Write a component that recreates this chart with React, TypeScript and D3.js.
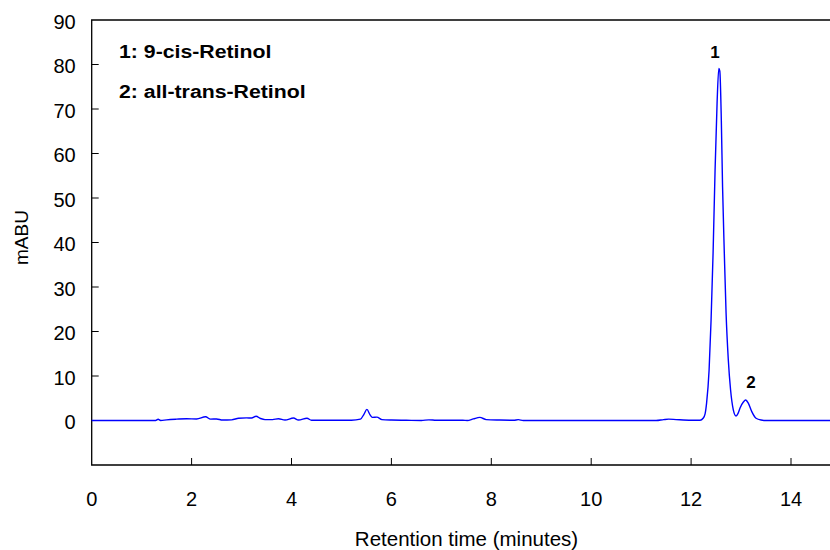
import React, { useRef, useEffect } from "react";
import * as d3 from "d3";

// chromatogram: retention time (min) / absorbance (mABU)
const times = [
  0.0, 1.28, 1.33, 1.38, 1.5, 1.7, 1.9, 2.1, 2.28, 2.38, 2.5, 2.62, 2.8, 2.94,
  3.1, 3.2, 3.29, 3.38, 3.47, 3.62, 3.74, 3.87, 4.04, 4.14, 4.31, 4.4, 4.8, 5.2,
  5.38, 5.45, 5.51, 5.57, 5.62, 5.71, 5.81, 6.0, 6.3, 6.6, 6.75, 6.9, 7.2, 7.43,
  7.52, 7.64, 7.77, 7.9, 8.17, 8.45, 8.54, 8.64, 9.5, 10.5, 11.3, 11.45, 11.55,
  11.7, 12.0, 12.18, 12.24, 12.28, 12.31, 12.36, 12.4, 12.44, 12.48, 12.52,
  12.555, 12.575, 12.605, 12.63, 12.665, 12.7, 12.745, 12.79, 12.845, 12.9,
  12.94, 12.98, 13.05, 13.09, 13.145, 13.215, 13.3, 13.4, 13.5, 14.0, 14.5, 15.0,
];
const signal = [
  0.0, 0.0, 0.27, 0.0, 0.15, 0.3, 0.4, 0.35, 0.85, 0.3, 0.35, 0.1, 0.15, 0.5,
  0.6, 0.55, 0.95, 0.45, 0.2, 0.2, 0.4, 0.1, 0.55, 0.1, 0.5, 0.05, 0.05, 0.05,
  0.3, 1.4, 2.5, 1.3, 0.7, 0.75, 0.2, 0.1, 0.05, 0.0, 0.15, 0.05, 0.05, 0.05,
  0.0, 0.35, 0.7, 0.2, 0.1, 0.05, 0.2, 0.0, 0.0, 0.0, 0.0, 0.2, 0.3,
  0.2, 0.05, 0.05, 0.5, 1.5, 3.9, 11.3, 22.6, 37.6, 56.3, 71.3,
  79.1, 78.5, 67.5, 52.5, 37.6, 24.2, 13.6, 6.9, 2.4, 1.0,
  1.6, 2.8, 4.2, 4.6, 3.9, 2.0, 0.5, 0.1, 0.0, 0.0, 0.0, 0.0,
];

const xTicks = [0, 2, 4, 6, 8, 10, 12, 14];
const yTicks = [0, 10, 20, 30, 40, 50, 60, 70, 80, 90];

const peakLabels = [
  { text: "1", t: 12.48, v: 82.7 },
  { text: "2", t: 13.2, v: 8.6 },
];
const legendLines = ["1: 9-cis-Retinol", "2: all-trans-Retinol"];

const W = 830;
const H = 550;
const FONT = "Arial, 'Liberation Sans', sans-serif";

function Chromatogram() {
  const svgRef = useRef<SVGSVGElement>(null);

  useEffect(() => {
    const svg = d3.select(svgRef.current);
    svg.selectAll("*").remove();

    const x = d3.scaleLinear().domain([0, 15]).range([91.7, 91.7 + 15 * 49.95]);
    const y = d3.scaleLinear().domain([-10, 90]).range([465, 20]);
    const left = x(0), right = W, top = y(90), bottom = y(-10);

    // frame (no right side, it runs off the picture)
    svg.append("path")
      .attr("d", `M${right},${top}H${left}V${bottom}H${right}`)
      .attr("fill", "none")
      .attr("stroke", "#000")
      .attr("stroke-width", 1.3);

    // inward ticks
    svg.append("g").selectAll("line")
      .data(yTicks.filter(v => v < 90))
      .join("line")
      .attr("x1", left).attr("x2", left + 7)
      .attr("y1", d => y(d)).attr("y2", d => y(d))
      .attr("stroke", "#000").attr("stroke-width", 1);
    svg.append("g").selectAll("line")
      .data(xTicks.filter(v => v > 0))
      .join("line")
      .attr("x1", d => x(d)).attr("x2", d => x(d))
      .attr("y1", bottom).attr("y2", bottom - 7)
      .attr("stroke", "#000").attr("stroke-width", 1);

    // tick labels
    svg.append("g").selectAll("text")
      .data(yTicks)
      .join("text")
      .attr("x", left - 16)
      .attr("y", d => y(d) + 1.5)
      .attr("text-anchor", "end")
      .attr("dominant-baseline", "central")
      .style("font-family", FONT)
      .style("font-size", "20px")
      .text(d => d);
    svg.append("g").selectAll("text")
      .data(xTicks)
      .join("text")
      .attr("x", d => x(d))
      .attr("y", 506)
      .attr("text-anchor", "middle")
      .style("font-family", FONT)
      .style("font-size", "20px")
      .text(d => d);

    // axis titles
    svg.append("text")
      .attr("x", 466.5).attr("y", 546)
      .attr("text-anchor", "middle")
      .style("font-family", FONT)
      .style("font-size", "20.5px")
      .text("Retention time (minutes)");
    svg.append("text")
      .attr("transform", `translate(28,${(top + bottom) / 2 - 5}) rotate(-90)`)
      .attr("text-anchor", "middle")
      .style("font-family", FONT)
      .style("font-size", "19px")
      .text("mABU");

    // trace
    const pts = times.map((t, i) => [t, signal[i]] as [number, number]);
    const line = d3.line<[number, number]>()
      .x(d => x(d[0]))
      .y(d => y(d[1]))
      .curve(d3.curveMonotoneX);
    svg.append("path")
      .datum(pts)
      .attr("d", line)
      .attr("fill", "none")
      .attr("stroke", "#0000ff")
      .attr("stroke-width", 1.4);

    // peak numbers
    svg.append("g").selectAll("text")
      .data(peakLabels)
      .join("text")
      .attr("x", d => x(d.t))
      .attr("y", d => y(d.v))
      .attr("text-anchor", "middle")
      .attr("dominant-baseline", "central")
      .style("font-family", FONT)
      .style("font-weight", "bold")
      .style("font-size", "17px")
      .text(d => d.text);

    // legend
    svg.append("g").selectAll("text")
      .data(legendLines)
      .join("text")
      .attr("transform", (d, i) => `translate(119,${51 + i * 40.5}) scale(1.12,1)`)
      .attr("dominant-baseline", "central")
      .style("font-family", FONT)
      .style("font-weight", "bold")
      .style("font-size", "19px")
      .text(d => d);
  }, []);

  return (
    <svg ref={svgRef} width={W} height={H}
      style={{ position: "absolute", left: 0, top: 0, background: "#fff" }} />
  );
}

export default function App() {
  return <Chromatogram />;
}
